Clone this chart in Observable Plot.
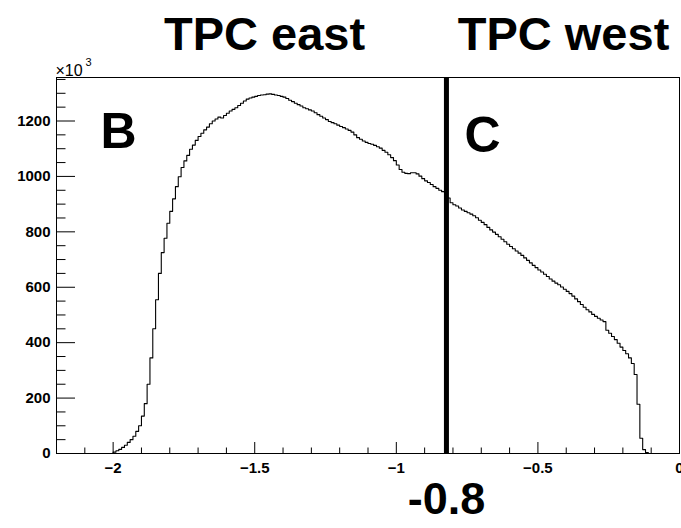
<!DOCTYPE html>
<html><head><meta charset="utf-8">
<script src="https://cdn.jsdelivr.net/npm/d3@7"></script>
<script src="https://cdn.jsdelivr.net/npm/@observablehq/plot@0.6"></script>
<style>body{margin:0;background:#fff}#chart svg{display:block}</style>
</head><body><div id="chart"></div>
<script>
// ---- data (values in units of 10^3 entries per 0.01 bin) ----
const binStart = -2.0;
const binWidth = 0.01;
const counts = [
  5, 10, 15, 22, 30, 40, 50, 62, 80, 100,
  135, 180, 250, 345, 450, 555, 650, 725, 777, 831,
  874, 919, 963, 999, 1032, 1056, 1076, 1098, 1113, 1130,
  1144, 1156, 1168, 1178, 1190, 1200, 1207, 1214, 1211, 1220,
  1228, 1236, 1242, 1248, 1256, 1264, 1272, 1279, 1283, 1286,
  1289, 1292, 1294, 1295, 1297, 1298, 1296, 1294, 1292, 1289,
  1286, 1281, 1275, 1270, 1264, 1259, 1254, 1248, 1244, 1240,
  1236, 1230, 1223, 1217, 1211, 1205, 1198, 1194, 1190, 1185,
  1180, 1176, 1171, 1166, 1160, 1150, 1140, 1134, 1128, 1123,
  1119, 1116, 1112, 1107, 1102, 1094, 1087, 1078, 1068, 1057,
  1041, 1025, 1015, 1011, 1010, 1013, 1013, 1009, 1001, 992,
  984, 978, 971, 963, 957, 950, 945, 940, 922, 905,
  898, 893, 886, 879, 874, 869, 864, 858, 851, 842,
  834, 826, 816, 807, 799, 791, 782, 773, 764, 755,
  747, 739, 731, 723, 715, 706, 697, 688, 679, 671,
  662, 655, 647, 639, 630, 622, 615, 609, 601, 593,
  585, 577, 568, 558, 548, 538, 528, 519, 511, 502,
  495, 488, 482, 476, 445, 434, 422, 411, 398, 384,
  372, 360, 345, 325, 285, 178, 55, 14, 3
];
const xDomain = [-2.2, 0];
const yDomain = [0, 1357];
const xMajor = [-2, -1.5, -1, -0.5, 0];
const xMinor = [-2.1, -1.9, -1.8, -1.7, -1.6, -1.4, -1.3, -1.2, -1.1, -0.9, -0.8, -0.7, -0.6, -0.4, -0.3, -0.2, -0.1];
const yMajor = [0, 200, 400, 600, 800, 1000, 1200];
const yMinor = [50, 100, 150, 250, 300, 350, 450, 500, 550, 650, 700, 750, 850, 900, 950, 1050, 1100, 1150, 1250, 1300, 1350];
const cutX = -0.823;
const cutLabel = "-0.8";
const sideTitles = ["TPC east", "TPC west"];
const regionLabels = ["B", "C"];
const multiplierBase = "×10";
const multiplierExp = "3";

// step outline points built from the bin edges
const steps = [{x: xDomain[0], y: 0}];
counts.forEach((c, i) => steps.push({x: binStart + i * binWidth, y: c}));
steps.push({x: binStart + counts.length * binWidth, y: 0});
steps.push({x: xDomain[1], y: 0});

const W = 681, H = 528, mL = 56, mR = 2, mT = 77, mB = 75;
const plotW = W - mL - mR, plotH = H - mT - mB;
const font = "'Liberation Sans', Arial, Helvetica, sans-serif";
const fmtX = d => d === 0 ? "0" : String(d).replace("-", "\u2212");
const big = {fontWeight: "bold", fill: "#000", textAnchor: "middle", lineAnchor: "middle"};

const chart = Plot.plot({
  width: W, height: H,
  marginLeft: mL, marginRight: mR, marginTop: mT, marginBottom: mB,
  style: {fontFamily: font, background: "#fff", color: "#000"},
  x: {domain: xDomain},
  y: {domain: yDomain},
  marks: [
    Plot.frame({stroke: "#000", strokeWidth: 1}),
    // inward ticks (ROOT style)
    Plot.tickY(yMajor, {y: d => d, insetRight: plotW - 19, stroke: "#000"}),
    Plot.tickY(yMinor, {y: d => d, insetRight: plotW - 9.5, stroke: "#000"}),
    Plot.tickX(xMajor, {x: d => d, insetTop: plotH - 11, stroke: "#000"}),
    Plot.tickX(xMinor, {x: d => d, insetTop: plotH - 5.5, stroke: "#000"}),
    Plot.axisY({ticks: yMajor, tickSize: 0, tickPadding: 6, label: null, tickFormat: d => String(d), fontSize: 15, fontWeight: "bold", fill: "#000"}),
    Plot.axisX({ticks: xMajor, tickSize: 0, tickPadding: 9, label: null, tickFormat: fmtX, fontSize: 15, fontWeight: "bold", fill: "#000"}),
    Plot.line(steps, {x: "x", y: "y", curve: "step-after", stroke: "#000", strokeWidth: 1.1}),
    Plot.ruleX([cutX], {stroke: "#000", strokeWidth: 5}),
    Plot.text([cutLabel], {x: cutX, frameAnchor: "bottom", dy: 46, fontSize: 45, ...big}),
    Plot.text([sideTitles[0]], {frameAnchor: "top-left", dx: 208, dy: -43, fontSize: 47, ...big}),
    Plot.text([sideTitles[1]], {frameAnchor: "top-left", dx: 507, dy: -43, fontSize: 47, ...big}),
    Plot.text([regionLabels[0]], {frameAnchor: "top-left", dx: 62, dy: 54, fontSize: 50, ...big}),
    Plot.text([regionLabels[1]], {frameAnchor: "top-left", dx: 426, dy: 58, fontSize: 50, ...big}),
    Plot.text([multiplierBase], {frameAnchor: "top-left", dx: -1, dy: -2, textAnchor: "start", lineAnchor: "bottom", fontSize: 16, fill: "#000"}),
    Plot.text([multiplierExp], {frameAnchor: "top-left", dx: 29, dy: -12, textAnchor: "start", lineAnchor: "bottom", fontSize: 11, fill: "#000"})
  ]
});
document.getElementById("chart").appendChild(chart);
</script>
</body></html>
